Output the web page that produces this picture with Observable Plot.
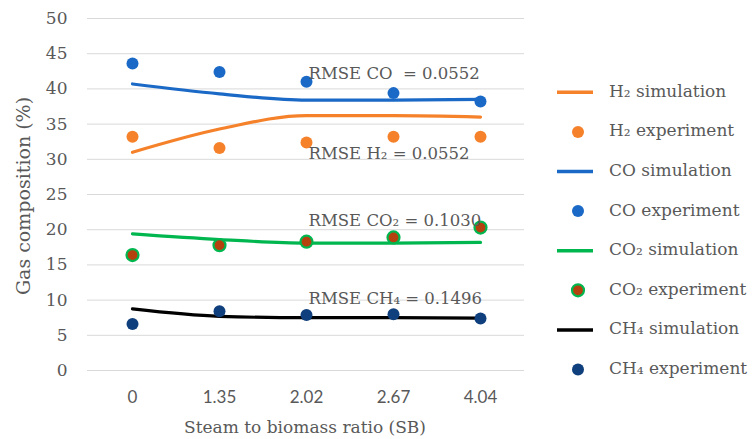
<!DOCTYPE html>
<html>
<head>
<meta charset="utf-8">
<script src="https://cdn.jsdelivr.net/npm/d3@7"></script>
<script src="https://cdn.jsdelivr.net/npm/@observablehq/plot@0.6"></script>
<style>
  html, body { margin: 0; padding: 0; background: #fff; }
  #wrap { position: relative; width: 752px; height: 439px; overflow: hidden; }
  #legend { position: absolute; left: 540px; top: 0; }
</style>
</head>
<body>
<div id="wrap"></div>
<script>
// ---- data ----
const sbLabels = ["0", "1.35", "2.02", "2.67", "4.04"];
const h2Sim  = [31.0, 34.3, 36.2, 36.2, 36.0];
const h2Exp  = [33.2, 31.6, 32.4, 33.2, 33.2];
const coSim  = [40.7, 39.3, 38.4, 38.4, 38.5];
const coExp  = [43.6, 42.4, 41.0, 39.4, 38.2];
const co2Sim = [19.4, 18.6, 18.1, 18.1, 18.2];
const co2Exp = [16.4, 17.8, 18.3, 18.9, 20.3];
const ch4Sim = [8.75, 7.7, 7.5, 7.5, 7.45];
const ch4Exp = [6.6, 8.4, 7.9, 8.0, 7.4];
const yTicks = [0, 5, 10, 15, 20, 25, 30, 35, 40, 45, 50];

const seriesNames = ["H₂", "CO", "CO₂", "CH₄"];
const simColors = ["#F5822A", "#1B69C6", "#00B64F", "#000000"];
const expFill   = ["#F5822A", "#1B69C6", "#B5420E", "#0F3F7C"];
const expStroke = ["#F5822A", "#1B69C6", "#00B64F", "#0F3F7C"];

const rmseLabels = ["RMSE CO  = 0.0552", "RMSE H₂ = 0.0552", "RMSE CO₂ = 0.1030", "RMSE CH₄ = 0.1496"];
const rmseX = ["2.02", "2.02", "2.02", "2.02"];
const rmseY = [42.2, 30.8, 21.3, 10.2];

// ---- tables ----
const simArrays = [h2Sim, coSim, co2Sim, ch4Sim];
const expArrays = [h2Exp, coExp, co2Exp, ch4Exp];
const sim = [], exp = [];
seriesNames.forEach((s, i) => {
  sbLabels.forEach((sb, j) => {
    sim.push({series: s, sb, v: simArrays[i][j], idx: i});
    exp.push({series: s, sb, v: expArrays[i][j], idx: i});
  });
});
const annotations = rmseLabels.map((t, i) => ({t, sb: rmseX[i], v: rmseY[i]}));

const serif = "'DejaVu Serif', 'Palatino Linotype', serif";
const gray = "#595959";

const marks = [
  Plot.ruleY(yTicks, {stroke: "#D9D9D9", strokeWidth: 1})
];
seriesNames.forEach((s, i) => {
  marks.push(Plot.line(sim.filter(d => d.idx === i), {
    x: "sb", y: "v", stroke: simColors[i], strokeWidth: 3.2, curve: "monotone-x"
  }));
});
seriesNames.forEach((s, i) => {
  marks.push(Plot.dot(exp.filter(d => d.idx === i), {
    x: "sb", y: "v", r: 6, fill: expFill[i], stroke: expStroke[i],
    strokeWidth: i === 2 ? 2.2 : 0
  }));
});
marks.push(Plot.text(annotations, {
  x: "sb", y: "v", text: "t", textAnchor: "start", dx: 2,
  fill: gray, fontSize: 16.5, fontFamily: serif
}));
marks.push(Plot.axisY(yTicks, {
  tickSize: 0, tickPadding: 20, fontSize: 17, fontFamily: serif, fill: gray,
  label: null
}));
marks.push(Plot.axisX(sbLabels, {
  tickSize: 0, tickPadding: 20, fontSize: 17, fontFamily: "Lato, 'Open Sans', sans-serif", fill: gray,
  label: null
}));

const chart = Plot.plot({
  width: 752,
  height: 439,
  marginLeft: 87,
  marginRight: 228,
  marginTop: 18,
  marginBottom: 69,
  style: {background: "#fff", overflow: "visible"},
  x: {type: "point", domain: sbLabels, padding: 0.5},
  y: {domain: [0, 50]},
  marks
});
document.getElementById("wrap").appendChild(chart);

// axis titles as extra svg text
const svg = d3.select(chart);
svg.append("text")
  .attr("transform", "translate(25,196) rotate(-90)")
  .attr("text-anchor", "middle").attr("dominant-baseline", "middle")
  .style("font-family", serif).style("font-size", "19px").attr("fill", gray)
  .text("Gas composition (%)");
svg.append("text")
  .attr("x", 305).attr("y", 428)
  .attr("text-anchor", "middle").attr("dominant-baseline", "middle")
  .style("font-family", serif).style("font-size", "17px").attr("fill", gray)
  .text("Steam to biomass ratio (SB)");

// ---- legend ----
const legendItems = [];
seriesNames.forEach((s, i) => {
  legendItems.push({kind: "line", label: s + " simulation", i});
  legendItems.push({kind: "dot", label: s + " experiment", i});
});
const lg = d3.select("#wrap").append("svg").attr("id", "legend")
  .attr("width", 212).attr("height", 439);
const rowY0 = 92.3, rowStep = 39.6;
legendItems.forEach((it, k) => {
  const y = rowY0 + k * rowStep;
  if (it.kind === "line") {
    lg.append("line").attr("x1", 17).attr("x2", 53).attr("y1", y).attr("y2", y)
      .attr("stroke", simColors[it.i]).attr("stroke-width", 3.5);
  } else {
    lg.append("circle").attr("cx", 38).attr("cy", y).attr("r", 6)
      .attr("fill", expFill[it.i]).attr("stroke", expStroke[it.i])
      .attr("stroke-width", it.i === 2 ? 2.2 : 0);
  }
  lg.append("text").attr("x", 69).attr("y", y)
    .attr("dominant-baseline", "middle")
    .style("font-family", serif).style("font-size", "17px").attr("fill", gray)
    .text(it.label);
});
</script>
</body>
</html>
